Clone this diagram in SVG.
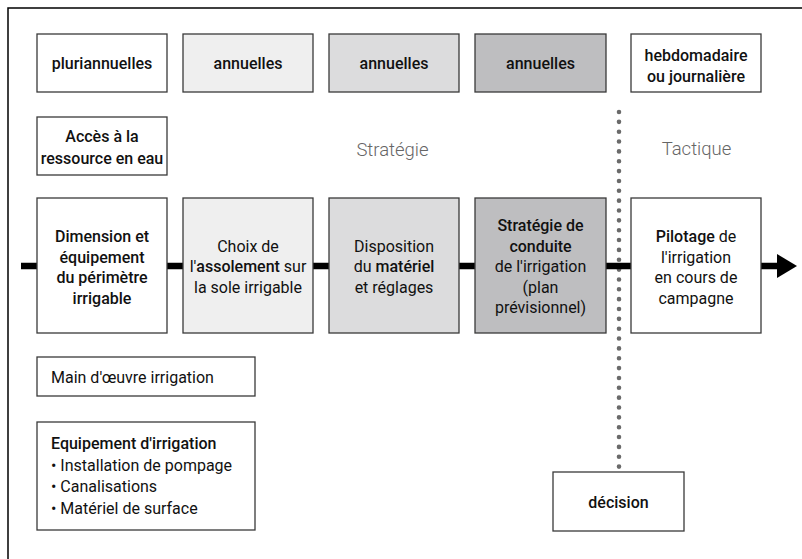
<svg xmlns="http://www.w3.org/2000/svg" width="802" height="559" viewBox="0 0 802 559">
<style>
.box{stroke:#3a3a3a;stroke-width:1.3}
.w{fill:#ffffff}.g1{fill:#efefef}.g2{fill:#dcdcdd}.g3{fill:#bebec0}
text{font-family:Roboto,"DejaVu Sans",sans-serif;font-size:16px;fill:#111}
.c{text-anchor:middle}
.b{font-weight:500}
.big{font-size:18.5px;font-weight:300;fill:#666}
</style>
<rect x="8" y="8" width="800" height="560" fill="#fff" stroke="#000" stroke-width="1.5"/>
<g id="connectors">
<line x1="619" y1="112" x2="619" y2="467" stroke="#6a6a6a" stroke-width="4.6" stroke-linecap="round" stroke-dasharray="0 9.85"/>
<line x1="21" y1="266" x2="778" y2="266" stroke="#000" stroke-width="6.5"/>
<polygon points="777,254 797,266 777,278" fill="#000"/>
</g>
<g id="n-pluri"><rect class="box w" x="37" y="34" width="130" height="58"/><text class="c b" x="102" y="68.5">pluriannuelles</text></g>
<g id="n-ann1"><rect class="box g1" x="183" y="34" width="130" height="58"/><text class="c b" x="248" y="68.5">annuelles</text></g>
<g id="n-ann2"><rect class="box g2" x="329" y="34" width="130" height="58"/><text class="c b" x="394" y="68.5">annuelles</text></g>
<g id="n-ann3"><rect class="box g3" x="475" y="34" width="131" height="58"/><text class="c b" x="540.5" y="68.5">annuelles</text></g>
<g id="n-hebdo"><rect class="box w" x="631" y="34" width="130" height="58"/><text class="c b" x="696" y="61">hebdomadaire</text><text class="c b" x="696" y="82">ou journalière</text></g>
<g id="n-acces"><rect class="box w" x="37" y="117" width="130" height="58"/><text class="c b" x="102" y="142">Accès à la</text><text class="c b" x="102" y="163.5">ressource en eau</text></g>
<g id="l-strategie"><text class="c big" x="392.5" y="156">Stratégie</text></g>
<g id="l-tactique"><text class="c big" x="696.5" y="155">Tactique</text></g>
<g id="n-dimension"><rect class="box w" x="37" y="198" width="130" height="135"/>
<text class="c b" x="102" y="242">Dimension et</text><text class="c b" x="102" y="262.5">équipement</text><text class="c b" x="102" y="283">du périmètre</text><text class="c b" x="102" y="303.5">irrigable</text></g>
<g id="n-assolement"><rect class="box g1" x="183" y="198" width="130" height="135"/>
<text class="c" x="248" y="251.5">Choix de</text><text class="c" x="248" y="272">l'<tspan class="b">assolement</tspan> sur</text><text class="c" x="248" y="292.5">la sole irrigable</text></g>
<g id="n-materiel"><rect class="box g2" x="329" y="198" width="130" height="135"/>
<text class="c" x="394" y="251.5">Disposition</text><text class="c" x="394" y="272">du <tspan class="b">matériel</tspan></text><text class="c" x="394" y="292.5">et réglages</text></g>
<g id="n-conduite"><rect class="box g3" x="475" y="198" width="131" height="135"/>
<text class="c b" x="540.5" y="231">Stratégie de</text><text class="c b" x="540.5" y="251.5">conduite</text><text class="c" x="540.5" y="272">de l'irrigation</text><text class="c" x="540.5" y="292.5">(plan</text><text class="c" x="540.5" y="313">prévisionnel)</text></g>
<g id="n-pilotage"><rect class="box w" x="631" y="198" width="130" height="135"/>
<text class="c" x="696" y="242"><tspan class="b">Pilotage</tspan> de</text><text class="c" x="696" y="262.5">l'irrigation</text><text class="c" x="696" y="283">en cours de</text><text class="c" x="696" y="303.5">campagne</text></g>
<g id="n-main"><rect class="box w" x="37" y="357" width="218" height="39"/><text x="51" y="383">Main d'œuvre irrigation</text></g>
<g id="n-equip"><rect class="box w" x="37" y="422" width="218" height="108"/>
<text class="b" x="51" y="449">Equipement d'irrigation</text><text x="51" y="470.5">• Installation de pompage</text><text x="51" y="492">• Canalisations</text><text x="51" y="513.5">• Matériel de surface</text></g>
<g id="n-decision"><rect class="box w" x="553" y="472" width="131" height="59"/><text class="c b" x="618.5" y="508">décision</text></g>
</svg>
